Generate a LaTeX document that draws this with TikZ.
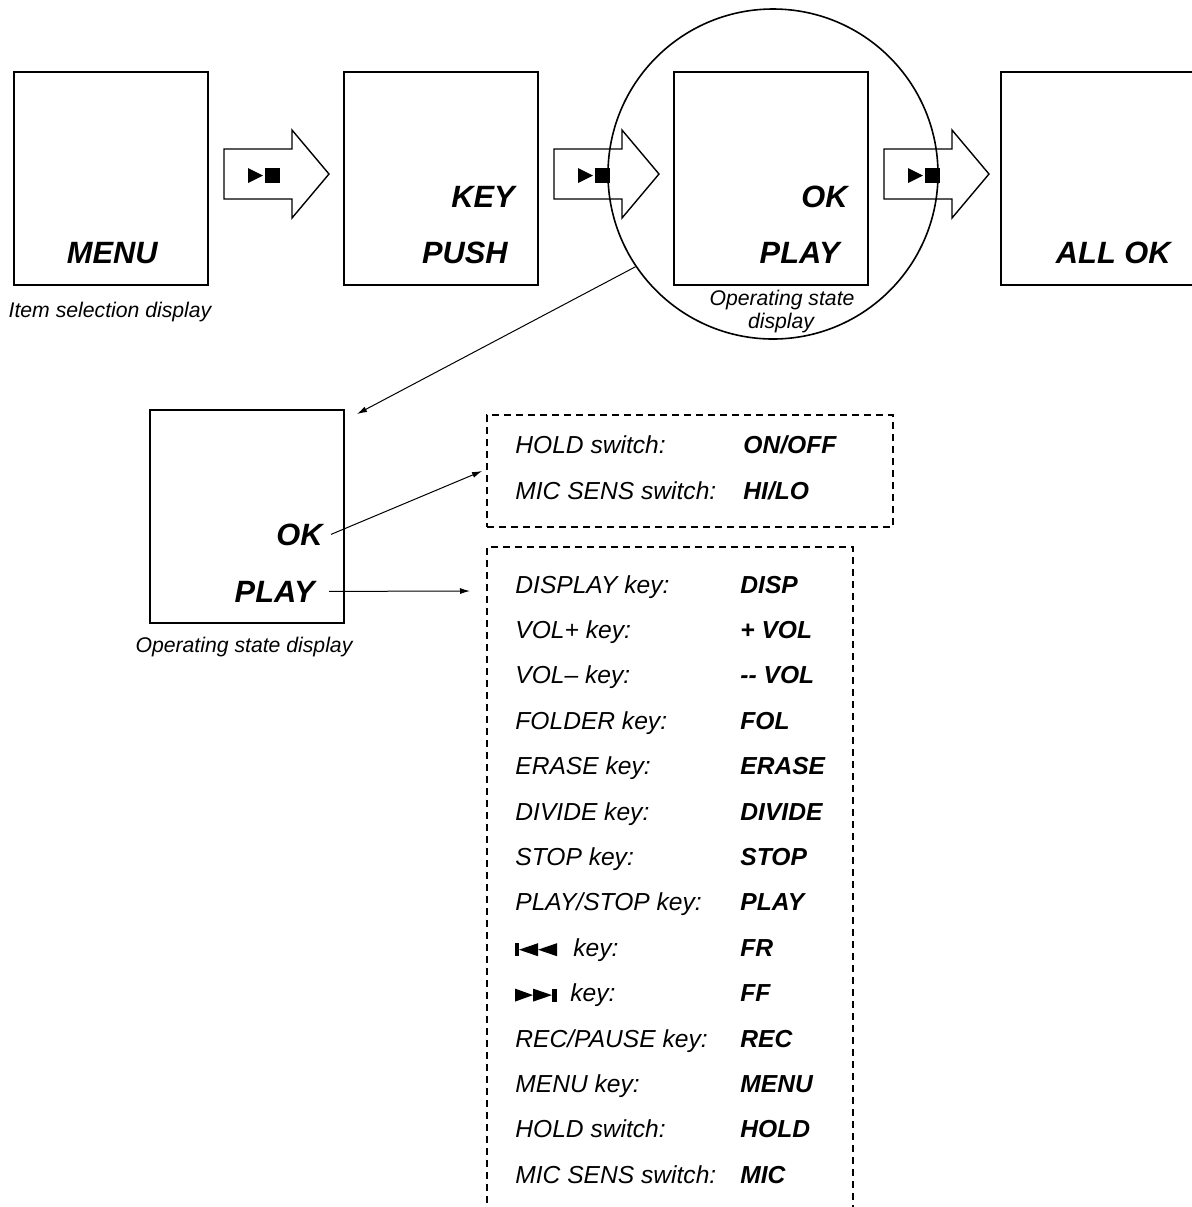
\documentclass[tikz,border=0pt]{standalone}
\usepackage{fontspec}
\setmainfont{Liberation Sans}
\usetikzlibrary{positioning,arrows.meta}

\begin{document}
\begin{tikzpicture}[x=0.5pt,y=-0.5pt,
    >={Latex[length=5pt,width=3pt]},
    screen/.style={draw, line width=1pt, minimum width=97pt, minimum height=106.5pt, inner sep=0pt},
    big/.style={font=\fontsize{15.4}{18}\selectfont\bfseries\itshape, inner sep=0pt, anchor=base east},
    caption/.style={font=\fontsize{10.6}{12.5}\selectfont\itshape, inner sep=0pt, anchor=base},
    keyname/.style={font=\fontsize{12.3}{14}\selectfont\itshape, inner sep=0pt, anchor=base west},
    keyval/.style={font=\fontsize{12.3}{14}\selectfont\bfseries\itshape, inner sep=0pt, anchor=base west},
    frame/.style={dash pattern=on 3.6pt off 2.4pt, line width=0.9pt}]

    \useasboundingbox (0,0) rectangle (1191,1207);

    % Anzeigen oben
    \node[screen] (menu) at (111,178.5) {};
    \node[screen] (keypush) at (441,178.5) {};
    \node[screen] (okplay) at (771,178.5) {};
    \node[screen] (allok) at (1098,178.5) {};

    \node[big] (menutxt) at (158,263) {MENU};
    \node[big] (keytxt) at (515,207) {KEY};
    \node[big] (pushtxt) at (508,263) {PUSH};
    \node[big] (oktxt) at (848,207) {OK};
    \node[big] (playtxt) at (840,263) {PLAY};
    \node[big] (alltxt) at (1171,263) {ALL OK};

    \node[caption] (capone) at (110,317) {Item selection display};

    % Blockpfeile
    \foreach \dx in {0,330,660} {
        \draw[line width=0.7pt, fill=white] (224+\dx,149) -- (292+\dx,149) -- (292+\dx,130) -- (329+\dx,174)
            -- (292+\dx,218) -- (292+\dx,199) -- (224+\dx,199) -- cycle;
        \fill (248+\dx,168) -- (263+\dx,175.5) -- (248+\dx,183) -- cycle;
        \fill (265+\dx,168) rectangle (280+\dx,183);
    }

    % Lupe
    \node[draw, circle, line width=0.8pt, minimum size=165pt, inner sep=0pt] (lens) at (773,174) {};
    \node[caption] (capthreea) at (782,305) {Operating state};
    \node[caption] (capthreeb) at (781,328) {display};

    % Detailanzeige
    \node[screen] (detail) at (247,516) {};
    \node[big] (okfive) at (323,545) {OK};
    \node[big] (playfive) at (315,602) {PLAY};
    \node[caption] (capfive) at (244,652) {Operating state display};

    \coordinate (zoomtip) at (357,414);
    \draw[->, line width=0.5pt] (lens.214) -- (zoomtip);

    % Schalter
    \node[draw, frame, minimum width=203pt, minimum height=56pt, inner sep=0pt] (holdbox) at (690,471) {};
    \node[keyname] (holdlbl) at (515,453) {HOLD switch:};
    \node[keyval] (holdval) at (743,453) {ON/OFF};
    \node[keyname] (miclbl) at (515,499) {MIC SENS switch:};
    \node[keyval] (micval) at (743,499) {HI/LO};
    \draw[->, line width=0.5pt] ([xshift=4pt]okfive.east) -- ([xshift=-2pt]holdbox.west);

    % Tasten
    \draw[frame] (487,1215) -- (487,547) -- (853,547) -- (853,1215);
    \foreach \x/\lbl/\val [count=\i from 0] in {
        515/{DISPLAY key:}/DISP, 515/{VOL+ key:}/+ VOL, 515/{VOL-- key:}/-{}- VOL,
        515/{FOLDER key:}/FOL, 515/{ERASE key:}/ERASE, 515/{DIVIDE key:}/DIVIDE,
        515/{STOP key:}/STOP, 515/{PLAY/STOP key:}/PLAY, 573/{key:}/FR,
        570/{key:}/FF, 515/{REC/PAUSE key:}/REC, 515/{MENU key:}/MENU,
        515/{HOLD switch:}/HOLD, 515/{MIC SENS switch:}/MIC} {
        \node[keyname] (row\i) at (\x,593+45.4*\i) {\lbl};
        \node[keyval] (val\i) at (740,593+45.4*\i) {\val};
    }
    % Symbole FR / FF
    \fill (515,943.2) rectangle (519,956.2);
    \fill (538,943.2) -- (519,949.7) -- (538,956.2) -- cycle;
    \fill (557,943.2) -- (538,949.7) -- (557,956.2) -- cycle;
    \fill (515,988.6) -- (533,995.1) -- (515,1001.6) -- cycle;
    \fill (533,988.6) -- (552,995.1) -- (533,1001.6) -- cycle;
    \fill (552,988.6) rectangle (557,1001.6);

    \coordinate (listtip) at (470,591);
    \draw[->, line width=0.5pt] ([xshift=7pt]playfive.east) -- (listtip);

\end{tikzpicture}
\end{document}
